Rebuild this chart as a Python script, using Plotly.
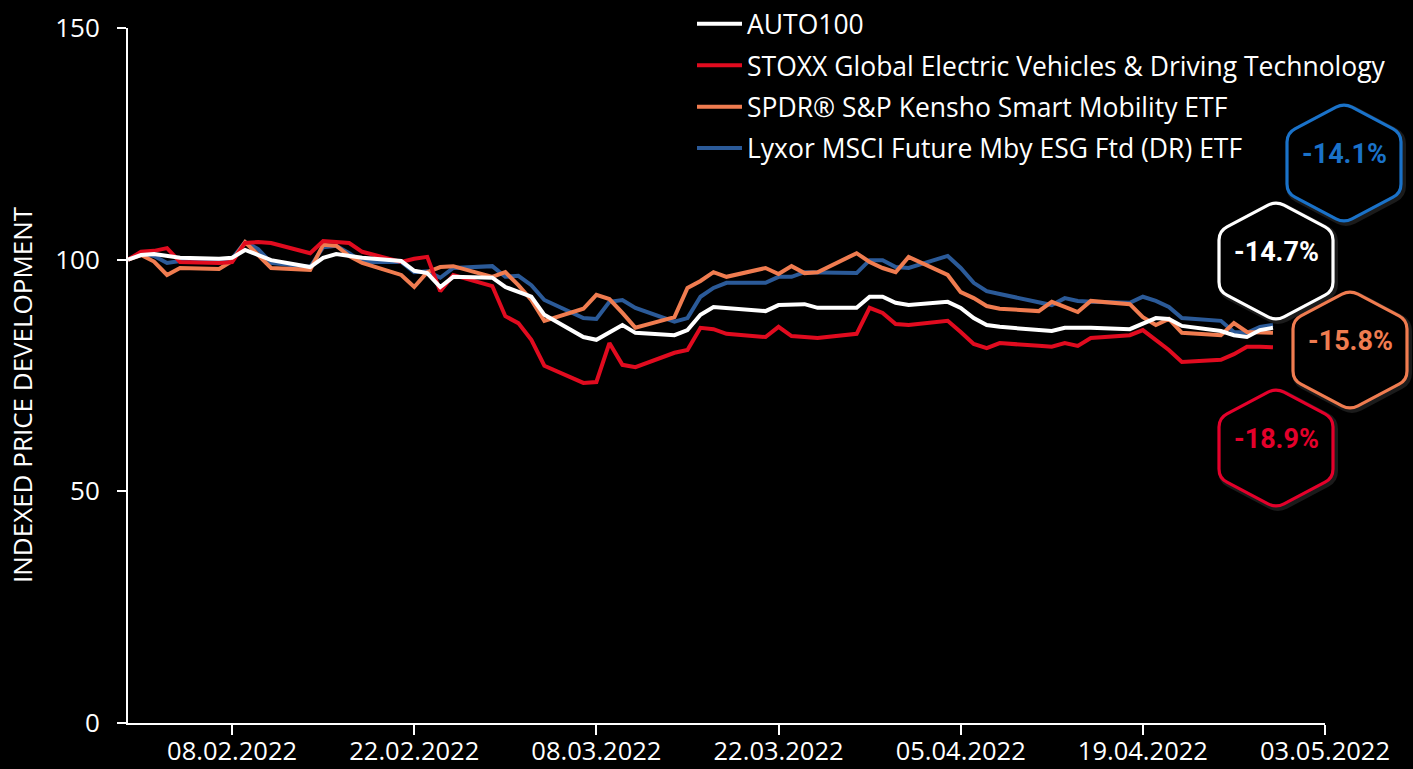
import math
import pandas as pd
import plotly.graph_objects as go

# ---------------- data ----------------
dates = pd.bdate_range("2022-01-31", "2022-04-29")

auto100 = [100.0, 101.0, 101.2, 100.7, 100.4, 100.2, 100.4, 102.1, 101.0, 99.9,
           98.4, 100.4, 101.2, 100.7, 100.4, 99.7, 97.6, 97.1, 94.1, 96.3,
           96.1, 94.1, 93.0, 92.0, 88.1, 83.3, 82.7, 84.4, 85.9, 84.2,
           83.7, 84.8, 88.1, 89.8, 89.6, 88.9, 90.2, 90.2, 90.4, 89.6,
           89.6, 92.0, 92.0, 90.7, 90.2, 90.9, 89.6, 87.4, 85.9, 85.5,
           84.8, 84.6, 85.3, 85.3, 85.3, 85.0, 86.3, 87.4, 87.2, 85.7,
           84.6, 83.7, 83.3, 84.8, 85.3]
stoxx = [100.0, 101.7, 101.9, 102.5, 99.5, 99.3, 99.5, 103.6, 103.8, 103.6,
         101.4, 104.0, 103.8, 103.6, 101.7, 99.5, 100.2, 100.6, 93.2, 96.7,
         94.3, 87.8, 86.3, 82.7, 77.1, 73.4, 73.6, 82.0, 77.3, 76.8,
         79.9, 80.5, 85.3, 85.0, 84.0, 83.3, 85.5, 83.5, 83.3, 83.1,
         84.0, 89.6, 88.5, 86.1, 85.9, 86.8, 84.4, 81.8, 80.9, 82.0,
         81.4, 81.2, 82.0, 81.4, 83.1, 83.7, 84.8, 82.7, 80.5, 77.9,
         78.4, 79.6, 81.2, 81.2, 81.1]
spdr = [100.0, 101.0, 99.6, 96.7, 98.2, 98.0, 99.7, 103.8, 101.0, 98.2,
        97.8, 103.2, 103.0, 100.8, 99.3, 96.7, 94.1, 97.3, 98.4, 98.6,
        96.3, 97.3, 94.5, 91.3, 86.8, 89.4, 92.4, 91.5, 88.5, 85.3,
        87.6, 93.9, 95.4, 97.3, 96.3, 98.2, 96.9, 98.6, 97.1, 97.3,
        101.4, 99.5, 98.2, 97.3, 100.6, 96.7, 93.0, 91.7, 90.0, 89.4,
        88.9, 90.9, 89.8, 88.7, 91.1, 90.4, 87.6, 85.9, 87.2, 84.2,
        83.7, 86.3, 84.4, 84.2, 84.2]
lyxor = [100.0, 101.2, 100.8, 99.3, 99.7, 99.7, 100.2, 103.8, 102.3, 99.3,
         98.4, 102.7, 103.0, 101.4, 99.5, 99.5, 97.3, 97.5, 96.1, 98.2,
         98.6, 96.3, 96.5, 94.5, 91.3, 87.4, 87.2, 90.9, 91.3, 89.6,
         86.6, 87.4, 92.0, 93.9, 95.0, 95.0, 96.3, 96.3, 97.3, 97.3,
         97.1, 99.9, 99.9, 98.4, 98.2, 100.8, 98.2, 95.0, 93.2, 92.6,
         90.7, 90.2, 91.7, 91.1, 90.9, 90.7, 92.0, 91.1, 89.8, 87.4,
         86.8, 84.4, 84.2, 85.5, 85.9]

names = ["AUTO100",
         "STOXX Global Electric Vehicles & Driving Technology",
         "SPDR® S&P Kensho Smart Mobility ETF",
         "Lyxor MSCI Future Mby ESG Ftd (DR) ETF"]
series = [auto100, stoxx, spdr, lyxor]
line_colors = ["#ffffff", "#e10b1f", "#f07c50", "#2b5a98"]
badge_colors = ["#ffffff", "#e4002b", "#f07c50", "#1a72c9"]
badge_text = ["-14.7%", "-18.9%", "-15.8%", "-14.1%"]

tick_dates = ["2022-02-08", "2022-02-22", "2022-03-08", "2022-03-22",
              "2022-04-05", "2022-04-19", "2022-05-03"]
tick_labels = ["08.02.2022", "22.02.2022", "08.03.2022", "22.03.2022",
               "05.04.2022", "19.04.2022", "03.05.2022"]
y_ticks = [0, 50, 100, 150]

# ---------------- layout geometry ----------------
W, H = 1413, 769
ML, MR, MT, MB = 128, 88, 28, 46
PW, PH = W - ML - MR, H - MT - MB


def px2paper(xp, yp):
    return (xp - ML) / PW, (H - MB - yp) / PH


fig = go.Figure()
# draw order: blue, orange, red, white (white on top)
for i in [3, 2, 1, 0]:
    fig.add_trace(go.Scatter(
        x=dates, y=series[i], mode="lines", name=names[i],
        legendgroup=f"g{i}", legendrank=i + 1,
        line=dict(color=line_colors[i], width=4),
        hoverinfo="skip"))


def hex_path(w, h, r):
    v = [(0, h), (w, h / 2), (w, -h / 2), (0, -h), (-w, -h / 2), (-w, h / 2)]
    n = len(v)
    parts = []
    for k in range(n):
        V = v[k]
        P = v[(k - 1) % n]
        N = v[(k + 1) % n]
        dp = math.hypot(P[0] - V[0], P[1] - V[1])
        dn = math.hypot(N[0] - V[0], N[1] - V[1])
        a = (V[0] + (P[0] - V[0]) * r / dp, V[1] + (P[1] - V[1]) * r / dp)
        b = (V[0] + (N[0] - V[0]) * r / dn, V[1] + (N[1] - V[1]) * r / dn)
        parts.append(("M" if k == 0 else "L") + f"{a[0]:.2f},{a[1]:.2f}")
        parts.append(f"Q{V[0]:.2f},{V[1]:.2f} {b[0]:.2f},{b[1]:.2f}")
    return " ".join(parts) + " Z"


# badge centres in pixels (label placement)
badge_centres = [(1276, 261), (1276, 448), (1350, 350), (1344, 163)]
shapes = []
annotations = []
for i, (cx, cy) in enumerate(badge_centres):
    xa, ya = px2paper(cx, cy)
    shapes.append(dict(type="path", xref="paper", yref="paper",
                       xsizemode="pixel", ysizemode="pixel",
                       xanchor=xa + 2 / PW, yanchor=ya - 2 / PH,
                       path=hex_path(57, 60, 9),
                       line=dict(color="rgba(90,90,90,0.30)", width=6),
                       fillcolor="rgba(0,0,0,0)", layer="above"))
    shapes.append(dict(type="path", xref="paper", yref="paper",
                       xsizemode="pixel", ysizemode="pixel",
                       xanchor=xa, yanchor=ya,
                       path=hex_path(57, 60, 9),
                       line=dict(color=badge_colors[i], width=3.2),
                       fillcolor="black", layer="above"))
    annotations.append(dict(xref="paper", yref="paper", x=xa, y=ya,
                            xanchor="center", yanchor="middle",
                            yshift=9, text=f"<b>{badge_text[i]}</b>",
                            showarrow=False,
                            font=dict(family="Roboto", size=27,
                                      color=badge_colors[i])))

# y-axis title
tx, ty = px2paper(22, 395)
annotations.append(dict(xref="paper", yref="paper", x=tx, y=ty,
                        xanchor="center", yanchor="middle",
                        text="INDEXED PRICE DEVELOPMENT", textangle=-90,
                        showarrow=False,
                        font=dict(family="Open Sans", size=26, color="white")))

lx, ly = px2paper(692, 0)

fig.update_layout(
    width=W, height=H,
    margin=dict(l=ML, r=MR, t=MT, b=MB, autoexpand=False),
    paper_bgcolor="black", plot_bgcolor="black",
    font=dict(family="Open Sans", color="white"),
    showlegend=True,
    legend=dict(x=lx, y=ly, xanchor="left", yanchor="top",
                bgcolor="rgba(0,0,0,0)",
                font=dict(family="Open Sans", size=26.5, color="white"),
                traceorder="grouped", tracegroupgap=4, itemwidth=45),
    xaxis=dict(range=["2022-01-31", "2022-05-03"],
               tickvals=tick_dates, ticktext=tick_labels,
               showgrid=False, zeroline=False, automargin=False,
               showline=True, linecolor="white", linewidth=2,
               ticks="outside", ticklen=10, tickwidth=1.5, tickcolor="white",
               ticklabelstandoff=-6,
               tickfont=dict(family="Open Sans", size=25.5, color="white")),
    yaxis=dict(range=[0, 150], tickvals=y_ticks,
               showgrid=False, zeroline=False, automargin=False,
               showline=True, linecolor="white", linewidth=2,
               ticks="outside", ticklen=9, tickwidth=1.5, tickcolor="white",
               ticklabelstandoff=12,
               tickfont=dict(family="Open Sans", size=26, color="white")),
    shapes=shapes,
    annotations=annotations,
)

fig.write_html("out.html", config={"displayModeBar": False})

with open("out.html", "r", encoding="utf-8") as f:
    html = f.read()
html = html.replace("<head>", "<head><style>html,body{margin:0;padding:0;"
                    "background:#000;overflow:hidden;}</style>", 1)
with open("out.html", "w", encoding="utf-8") as f:
    f.write(html)
